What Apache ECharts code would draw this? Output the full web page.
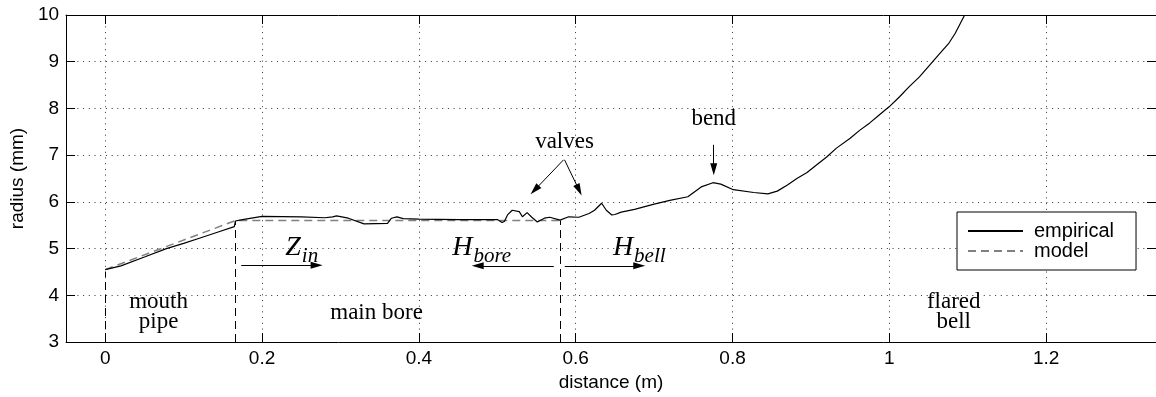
<!DOCTYPE html>
<html>
<head>
<meta charset="utf-8">
<script src="https://cdn.jsdelivr.net/npm/echarts@6/dist/echarts.min.js"></script>
<style>
  html, body { margin: 0; padding: 0; background: #fff; }
  #main { width: 1156px; height: 397px; }
</style>
</head>
<body>
<div id="main"></div>
<script>
// measured bore profile (m, mm)
const distance = [0, 0.02, 0.05, 0.078, 0.10, 0.12, 0.145, 0.1646, 0.166, 0.175, 0.2, 0.25, 0.28, 0.29, 0.295,
  0.31, 0.33, 0.36, 0.365, 0.372, 0.38, 0.40, 0.45, 0.50, 0.506, 0.509, 0.513, 0.519, 0.528, 0.532, 0.538, 0.544,
  0.551, 0.56, 0.567, 0.58, 0.591, 0.604, 0.617, 0.624, 0.633, 0.639, 0.646, 0.65, 0.658, 0.675, 0.70, 0.72,
  0.743, 0.76, 0.775, 0.785, 0.801, 0.827, 0.845, 0.857, 0.87, 0.882, 0.895, 0.907, 0.92, 0.9325, 0.95, 0.962,
  0.975, 0.987, 1.0, 1.013, 1.025, 1.038, 1.05, 1.063, 1.076, 1.084, 1.096]
const radius = [4.55, 4.63, 4.82, 5.0, 5.11, 5.22, 5.36, 5.47, 5.59, 5.62, 5.69, 5.68, 5.66, 5.68, 5.70,
  5.65, 5.53, 5.54, 5.65, 5.68, 5.64, 5.63, 5.62, 5.62, 5.56, 5.58, 5.72, 5.82, 5.79, 5.68, 5.77, 5.67,
  5.57, 5.65, 5.67, 5.61, 5.68, 5.67, 5.75, 5.82, 5.97, 5.82, 5.72, 5.73, 5.78, 5.84, 5.95, 6.03,
  6.11, 6.32, 6.41, 6.38, 6.26, 6.20, 6.17, 6.23, 6.36, 6.50, 6.63, 6.79, 6.96, 7.15, 7.36, 7.53,
  7.69, 7.86, 8.04, 8.25, 8.46, 8.67, 8.90, 9.15, 9.40, 9.61, 10.0]

// model bore
const modelDistance = [0, 0.166, 0.58]
const modelRadius = [4.55, 5.6, 5.6]

const xTicks = [0, 0.2, 0.4, 0.6, 0.8, 1, 1.2]

// section boundaries [x, top]
const guides = [[0, 4.5], [0.166, 5.59], [0.58, 5.6]]
// arrows [x1, y1, x2, y2]
const arrows = [
  [0.1734, 4.645, 0.2696, 4.645],
  [0.572, 4.63, 0.475, 4.63],
  [0.586, 4.63, 0.681, 4.63],
  [0.5845, 6.90, 0.5477, 6.254],
  [0.5857, 6.90, 0.6042, 6.254],
  [0.776, 7.22, 0.776, 6.70],
]
const notes = [
  { x: 0.5857, y: 7.29, text: 'valves' },
  { x: 0.776, y: 7.78, text: 'bend' },
  { x: 0.068, y: 3.645, text: 'mouth\npipe' },
  { x: 0.346, y: 3.63, text: 'main bore' },
  { x: 1.082, y: 3.645, text: 'flared\nbell' },
]
const mathNotes = [
  { x: 0.2506, y: 5.02, base: 'Z', sub: 'in' },
  { x: 0.48, y: 5.02, base: 'H', sub: 'bore' },
  { x: 0.681, y: 5.02, base: 'H', sub: 'bell' },
]

const sans = 'Liberation Sans'
const serif = 'Liberation Serif'

const zip = (a, b) => a.map((v, i) => [v, b[i]])

const myChart = echarts.init(document.getElementById('main'))

const tickStyle = { show: true, inside: true, length: 9, lineStyle: { color: '#000', width: 1 } }
const gridDots = { show: true, lineStyle: { color: '#333', width: 1, type: [1, 4.7] } }
const frameLine = { show: true, onZero: false, lineStyle: { color: '#000', width: 1 } }

const option = {
  animation: false,
  backgroundColor: '#fff',
  grid: { left: 60, top: 15, width: 1098, height: 327 },
  legend: {
    data: ['empirical', 'model'],
    orient: 'vertical',
    left: 957,
    top: 212,
    itemWidth: 55,
    itemHeight: 14,
    itemGap: 0,
    padding: [9, 22, 9, 10],
    borderColor: '#000',
    borderWidth: 1,
    borderRadius: 0,
    backgroundColor: '#fff',
    itemStyle: { opacity: 0 },
    textStyle: { fontFamily: sans, fontSize: 20, color: '#000', lineHeight: 20, padding: [0, 0, 0, 6] },
  },
  xAxis: [
    {
      type: 'value',
      min: -0.05,
      max: 1.34,
      name: 'distance (m)',
      nameLocation: 'middle',
      nameGap: 31,
      nameTextStyle: { fontFamily: sans, fontSize: 19, color: '#000' },
      axisLine: frameLine,
      axisTick: Object.assign({ customValues: xTicks }, tickStyle),
      axisLabel: { customValues: xTicks, fontFamily: sans, fontSize: 19, color: '#000', margin: 7 },
      splitLine: gridDots,
    },
    {
      type: 'value',
      position: 'top',
      min: -0.05,
      max: 1.34,
      axisLine: frameLine,
      axisTick: Object.assign({ customValues: xTicks }, tickStyle),
      axisLabel: { show: false, customValues: xTicks },
      splitLine: { show: false },
    },
  ],
  yAxis: [
    {
      type: 'value',
      min: 3,
      max: 10,
      interval: 1,
      name: 'radius (mm)',
      nameLocation: 'middle',
      nameGap: 33,
      nameTextStyle: { fontFamily: sans, fontSize: 19, color: '#000' },
      axisLine: frameLine,
      axisTick: tickStyle,
      axisLabel: { fontFamily: sans, fontSize: 19, color: '#000', margin: 7 },
      splitLine: gridDots,
    },
    {
      type: 'value',
      position: 'right',
      min: 3,
      max: 10,
      interval: 1,
      axisLine: frameLine,
      axisTick: tickStyle,
      axisLabel: { show: false },
      splitLine: { show: false },
    },
  ],
  series: [
    {
      name: 'model',
      type: 'line',
      symbol: 'none',
      data: zip(modelDistance, modelRadius),
      color: '#808080',
      itemStyle: { opacity: 0 },
      lineStyle: { color: '#808080', width: 1.5, type: [8, 5] },
      z: 2,
    },
    {
      name: 'empirical',
      type: 'line',
      symbol: 'none',
      data: zip(distance, radius),
      color: '#000',
      itemStyle: { opacity: 0 },
      lineStyle: { color: '#000', width: 1.2 },
      z: 3,
    },
    {
      name: 'guides',
      type: 'line',
      data: [],
      silent: true,
      markLine: {
        silent: true,
        symbol: ['none', 'none'],
        label: { show: false },
        lineStyle: { color: '#000', width: 1, type: [8, 5] },
        data: guides.map(g => [{ coord: [g[0], 3] }, { coord: [g[0], g[1]] }]),
      },
    },
    {
      name: 'notes',
      type: 'line',
      data: [],
      silent: true,
      markLine: {
        silent: true,
        symbol: ['none', 'triangle'],
        symbolSize: [7, 12],
        label: { show: false },
        lineStyle: { color: '#000', width: 1, type: 'solid' },
        itemStyle: { color: '#000' },
        data: arrows.map(a => [{ coord: [a[0], a[1]] }, { coord: [a[2], a[3]] }]),
      },
      markPoint: {
        silent: true,
        symbol: 'circle',
        symbolSize: 0,
        itemStyle: { color: 'transparent' },
        label: {
          show: true,
          position: 'inside',
          color: '#000',
          fontFamily: serif,
          fontSize: 23,
          lineHeight: 20,
          formatter: '{b}',
        },
        data: notes.map(n => ({ name: n.text, coord: [n.x, n.y] })).concat(
          mathNotes.map(n => ({
            name: n.base + n.sub,
            coord: [n.x, n.y],
            label: {
              formatter: '{m|' + n.base + '}{s|' + n.sub + '}',
              rich: {
                m: { fontFamily: serif, fontStyle: 'italic', fontSize: 28, lineHeight: 28, verticalAlign: 'top', color: '#000' },
                s: { fontFamily: serif, fontStyle: 'italic', fontSize: 21, lineHeight: 21, verticalAlign: 'top', padding: [12, 0, 0, 1], color: '#000' },
              },
            },
          }))
        ),
      },
    },
  ],
}

myChart.setOption(option)
</script>
</body>
</html>
